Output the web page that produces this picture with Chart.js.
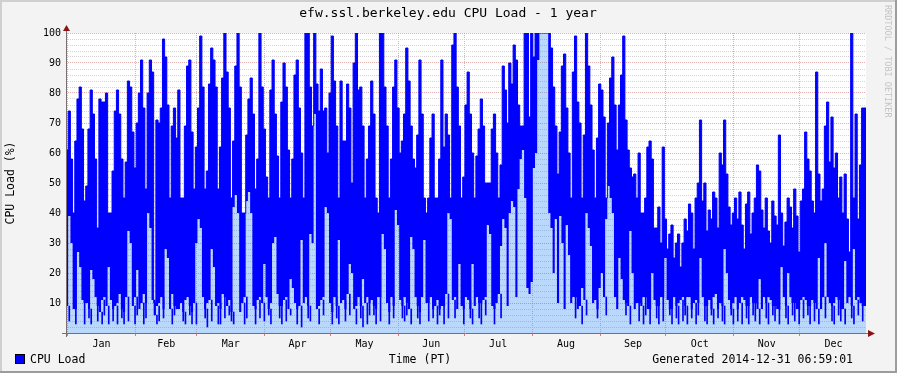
<!DOCTYPE html>
<html>
<head>
<meta charset="utf-8">
<title>efw.ssl.berkeley.edu CPU Load - 1 year</title>
<script src="https://cdn.jsdelivr.net/npm/chart.js"></script>
<style>
    html, body { margin: 0; padding: 0; background: #f3f3f3; }
    #wrap { width: 897px; height: 373px; }
</style>
</head>
<body>
<div id="wrap"><canvas id="cpuChart" width="897" height="373"></canvas></div>
<script>
// CPU load (%) per day from 2013-12-31 07:00 PT:
// peaks = daily high, troughs = level the load mostly stays above, dips = brief lowest value
const peaks = [
    55,61,74,58,40,64,78,82,68,44, 49,68,81,73,58,35,78,77,77,80,
    40,40,54,74,81,73,58,45,57,84, 82,67,55,70,80,91,75,48,80,91,
    87,10,71,70,75,98,92,76,45,69, 75,65,81,45,45,69,89,91,67,48,
    62,75,99,82,48,54,83,95,91,82, 48,62,85,100,87,75,45,64,89,100,
    82,40,40,66,78,85,73,48,58,100, 82,68,52,45,81,91,73,59,45,77,
    90,82,61,45,58,86,91,75,60,45, 100,100,82,69,100,83,74,88,74,75,
    60,80,99,84,69,45,84,64,64,83, 75,50,90,100,81,82,69,45,58,69,
    84,73,45,40,100,100,82,69,45,58, 82,91,75,60,64,73,95,84,69,58,
    55,66,91,73,45,40,45,65,73,45, 45,58,91,62,73,66,45,96,100,82,
    69,45,52,76,87,73,60,45,59,68, 78,69,50,50,50,68,73,60,45,56,
    89,81,70,90,83,96,91,76,69,69, 100,100,72,100,92,100,100,100,100,100,
    100,100,95,82,69,53,67,89,93,75, 60,45,87,99,77,70,45,66,100,89,
    76,61,45,65,83,81,72,45,70,85, 92,76,61,76,86,99,71,61,55,52,
    53,45,60,40,40,45,62,64,58,35, 35,42,30,62,38,28,33,36,25,30,
    33,22,30,38,34,43,40,28,45,50, 71,44,50,34,41,38,47,45,35,60,
    56,71,53,42,36,40,45,38,47,36, 28,43,47,33,40,45,56,54,41,35,
    45,34,30,44,39,36,66,40,29,37, 45,42,35,48,39,27,44,48,67,58,
    54,44,40,87,53,44,48,69,77,57, 72,55,60,45,52,40,53,38,27,100,
    45,73,38,56,75
];
const troughs = [
    12,9,39,30,8,8,27,22,11,10, 10,8,21,18,12,9,7,11,12,9,
    22,11,8,9,10,13,8,7,12,34, 30,9,12,21,8,10,13,10,40,35,
    11,6,9,10,12,8,28,25,8,13, 9,8,8,10,7,11,12,9,7,10,
    30,38,35,12,8,10,11,28,22,9, 10,8,13,12,9,11,7,42,46,40,
    7,10,12,44,47,40,9,8,11,12, 10,23,12,8,10,30,32,13,9,9,
    11,12,8,18,15,10,8,9,31,10, 12,9,33,30,73,8,9,11,12,42,
    40,10,7,12,9,31,10,11,8,13, 23,20,8,9,12,9,18,10,12,10,
    11,9,8,12,12,33,28,10,7,12, 9,41,36,11,9,12,10,8,32,28,
    12,9,7,12,31,10,10,12,8,9, 11,8,9,9,13,40,38,11,12,8,
    23,9,8,12,11,8,23,9,12,10, 10,11,12,36,33,9,8,10,13,29,
    38,35,9,40,44,42,12,48,58,61, 45,15,13,17,55,60,91,100,100,100,
    100,40,35,20,38,10,39,30,8,36, 26,10,12,12,8,9,15,11,40,35,
    29,10,11,8,15,20,12,38,49,45, 40,12,8,25,18,11,10,9,34,20,
    8,10,10,9,12,12,8,8,20,11, 9,9,12,12,25,11,8,8,12,9,
    10,11,12,9,12,12,8,10,11,10, 25,12,9,9,11,8,12,13,8,10,
    9,28,20,11,8,10,12,8,10,12, 11,9,9,12,10,10,8,18,8,12,
    10,12,11,9,9,8,8,22,12,9, 20,12,10,10,8,8,11,12,11,9,
    9,11,10,8,25,8,12,30,12,10, 9,10,12,11,8,8,24,10,12,9,
    28,11,12,10,9
];
const dips = [
    12,4,39,30,3,8,27,22,3,10, 5,3,21,18,4,9,3,6,12,3,
    22,4,8,3,10,5,3,7,4,34, 30,3,6,21,8,3,5,10,40,35,
    6,3,4,10,5,8,28,25,3,6, 9,8,8,4,3,11,6,3,7,3,
    30,38,35,5,2,10,4,28,22,3, 3,8,5,12,6,4,3,42,46,40,
    7,3,5,44,47,40,3,8,5,12, 4,23,6,3,10,30,32,5,3,9,
    4,12,6,18,15,3,8,2,31,10, 5,4,33,30,73,3,9,6,12,42,
    40,3,7,5,3,31,10,4,8,6, 23,20,3,9,5,2,18,3,6,10,
    6,3,8,4,12,33,28,3,7,5, 9,41,36,5,4,6,10,3,32,28,
    5,3,7,12,31,4,10,5,8,3, 6,8,3,9,5,40,38,5,12,8,
    23,3,8,12,5,3,23,9,5,3, 10,6,12,36,33,3,8,10,5,29,
    38,35,9,40,44,42,12,48,58,61, 45,15,13,17,55,60,91,100,100,100,
    100,40,35,20,38,10,39,30,8,36, 26,10,5,12,8,3,15,6,40,35,
    29,10,5,8,15,20,6,38,49,45, 40,12,8,25,18,6,10,3,34,20,
    8,4,10,3,6,12,3,8,20,5, 3,9,4,12,25,6,3,8,5,3,
    10,4,6,3,12,5,8,3,6,10, 25,4,3,9,6,3,12,5,8,4,
    3,28,20,6,3,10,4,8,3,12, 5,3,9,6,4,10,3,18,8,5,
    3,12,6,4,9,3,8,22,5,3, 20,6,4,10,3,8,5,12,6,3,
    9,4,10,3,25,8,5,30,12,4, 3,10,6,4,8,3,24,10,5,3,
    28,6,12,4,9
];
const monthNames = ['Jan', 'Feb', 'Mar', 'Apr', 'May', 'Jun', 'Jul', 'Aug', 'Sep', 'Oct', 'Nov', 'Dec'];
const yGridStep = 2;
const yLabelStep = 10;

const titleText = 'efw.ssl.berkeley.edu CPU Load - 1 year';
const generatedText = 'Generated 2014-12-31 06:59:01';

const DAY = 86400000;
const graphStart = Date.UTC(2013, 11, 31, 14, 59, 1); // 2013-12-31 06:59:01 PST
const graphEnd = Date.UTC(2014, 11, 31, 14, 59, 1);
const spanDays = (graphEnd - graphStart) / DAY;

// local midnight of the 1st, PT (daylight time from Apr 1 to Nov 1 in 2014)
function monthStartDay(year, m) {
    const offset = (year === 2014 && m >= 3 && m <= 10) ? 7 : 8;
    return (Date.UTC(year, m, 1, offset) - graphStart) / DAY;
}

const monthStarts = [];
const monthMids = [];
for (let m = 0; m < 12; m++) {
    const a = monthStartDay(2014, m);
    const b = m < 11 ? monthStartDay(2014, m + 1) : monthStartDay(2015, 0);
    monthStarts.push(a);
    monthMids.push((a + b) / 2);
}

function toPoints(values) {
    const pts = values.map((v, d) => ({ x: d, y: v }));
    pts.push({ x: values.length, y: values[values.length - 1] });
    return pts;
}

// short excursions below the trough, one thin stroke per day
const dipBars = dips
    .map((v, d) => ({ x: d + 0.5, y: [v, troughs[d]] }))
    .filter(p => p.y[0] < p.y[1]);

const majorGrid = 'rgba(205,120,120,0.6)';
const minorGrid = '#d4d4d4';
const monoFont = '"DejaVu Sans Mono", monospace';

const rrdFrame = {
    id: 'rrdFrame',
    beforeDraw(chart) {
        const { ctx, chartArea: a, width, height } = chart;
        ctx.save();
        ctx.fillStyle = '#f3f3f3';
        ctx.fillRect(0, 0, width, height);
        ctx.fillStyle = '#cfcfcf';
        ctx.fillRect(0, 0, width, 2);
        ctx.fillRect(0, 0, 2, height);
        ctx.fillStyle = '#9c9c9c';
        ctx.fillRect(0, height - 2, width, 2);
        ctx.fillRect(width - 2, 0, 2, height);
        ctx.fillStyle = '#ffffff';
        ctx.fillRect(a.left, a.top, a.right - a.left, a.bottom - a.top);
        ctx.restore();
    },
    afterDraw(chart) {
        const { ctx, chartArea: a } = chart;
        const ax = a.left + 0.5;
        const ay = a.bottom + 0.5;
        ctx.save();

        // axes and arrows
        ctx.strokeStyle = '#7a6e6e';
        ctx.lineWidth = 1;
        ctx.beginPath();
        ctx.moveTo(a.left - 4, ay);
        ctx.lineTo(a.right + 3, ay);
        ctx.moveTo(ax, a.bottom + 4);
        ctx.lineTo(ax, a.top - 3);
        ctx.stroke();
        ctx.fillStyle = '#8b1414';
        ctx.beginPath();
        ctx.moveTo(ax - 3.5, a.top - 2);
        ctx.lineTo(ax + 3.5, a.top - 2);
        ctx.lineTo(ax, a.top - 8);
        ctx.closePath();
        ctx.fill();
        ctx.beginPath();
        ctx.moveTo(a.right + 2, ay - 3.5);
        ctx.lineTo(a.right + 2, ay + 3.5);
        ctx.lineTo(a.right + 9, ay);
        ctx.closePath();
        ctx.fill();

        // title
        ctx.fillStyle = '#000';
        ctx.font = '13px ' + monoFont;
        ctx.textAlign = 'center';
        ctx.textBaseline = 'alphabetic';
        ctx.fillText(titleText, 448, 17);

        // y axis title
        ctx.save();
        ctx.translate(11, 183);
        ctx.rotate(-Math.PI / 2);
        ctx.font = '11.5px ' + monoFont;
        ctx.textBaseline = 'middle';
        ctx.fillText('CPU Load (%)', 0, 0);
        ctx.restore();

        // legend line
        ctx.fillStyle = '#0000ff';
        ctx.fillRect(15, 355, 9, 9);
        ctx.strokeStyle = '#000';
        ctx.strokeRect(15.5, 354.5, 9, 9);
        ctx.fillStyle = '#000';
        ctx.font = '11.5px ' + monoFont;
        ctx.textBaseline = 'alphabetic';
        ctx.textAlign = 'left';
        ctx.fillText('CPU Load', 30, 363);
        ctx.textAlign = 'center';
        ctx.fillText('Time (PT)', 420, 363);
        ctx.textAlign = 'right';
        ctx.fillText(generatedText, 853, 363);

        // watermark
        ctx.save();
        ctx.translate(887, 5);
        ctx.rotate(Math.PI / 2);
        ctx.font = '8.5px ' + monoFont;
        ctx.fillStyle = '#c4c4c4';
        ctx.textAlign = 'left';
        ctx.textBaseline = 'middle';
        ctx.fillText('RRDTOOL / TOBI OETIKER', 0, 0);
        ctx.restore();

        ctx.restore();
    }
};

Chart.defaults.font.family = monoFont;

const ctx = document.getElementById('cpuChart').getContext('2d');
const cpuChart = new Chart(ctx, {
    type: 'line',
    data: {
        datasets: [{
            label: 'CPU Load trough',
            data: toPoints(troughs),
            stepped: 'after',
            fill: 'origin',
            backgroundColor: 'rgba(0,110,240,0.27)',
            borderWidth: 0,
            pointRadius: 0,
            order: 2
        }, {
            label: 'CPU Load',
            data: toPoints(peaks),
            stepped: 'after',
            fill: '-1',
            backgroundColor: '#0000ff',
            borderColor: '#0000ff',
            borderWidth: 1,
            pointRadius: 0,
            order: 1
        }, {
            type: 'bar',
            label: 'CPU Load dips',
            data: dipBars,
            backgroundColor: '#0000ff',
            borderWidth: 0,
            barThickness: 1,
            grouped: false,
            order: 0
        }]
    },
    options: {
        responsive: false,
        devicePixelRatio: 1,
        animation: false,
        events: [],
        layout: { padding: { top: 33, right: 31, left: 0, bottom: 0 } },
        plugins: {
            legend: { display: false },
            tooltip: { enabled: false },
            title: { display: false }
        },
        scales: {
            x: {
                type: 'linear',
                position: 'bottom',
                offset: false,
                min: 0,
                max: spanDays,
                afterBuildTicks: s => { s.ticks = monthStarts.map(v => ({ value: v })); },
                afterFit: s => { s.height = 4; },
                ticks: { display: false },
                grid: { offset: false, color: majorGrid, drawTicks: true, tickLength: 3, tickColor: 'rgba(220,90,90,0.8)' },
                border: { display: false, dash: [1, 1] }
            },
            months: {
                type: 'linear',
                position: 'bottom',
                offset: false,
                min: 0,
                max: spanDays,
                afterBuildTicks: s => { s.ticks = monthMids.map(v => ({ value: v })); },
                afterFit: s => { s.height = 36; },
                ticks: {
                    autoSkip: false,
                    maxRotation: 0,
                    padding: -7,
                    color: '#000',
                    font: { size: 10 },
                    callback: (v, i) => monthNames[i]
                },
                grid: { display: false, offset: false },
                border: { display: false }
            },
            y: {
                min: 0,
                max: 100,
                afterBuildTicks: s => {
                    const t = [];
                    for (let v = 0; v <= 100; v += yGridStep) t.push({ value: v });
                    s.ticks = t;
                },
                afterFit: s => { s.width = 66; },
                ticks: {
                    autoSkip: false,
                    color: '#000',
                    font: { size: 10 },
                    padding: 5,
                    callback: v => (v > 0 && v % yLabelStep === 0) ? String(v) : ''
                },
                grid: {
                    drawTicks: false,
                    color: c => (c.tick && c.tick.value % yLabelStep === 0) ? majorGrid : minorGrid
                },
                border: { display: false, dash: [1, 1] }
            }
        }
    },
    plugins: [rrdFrame]
});
</script>
</body>
</html>
